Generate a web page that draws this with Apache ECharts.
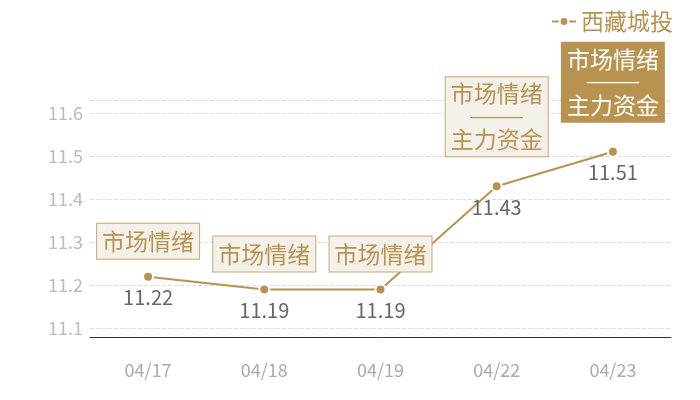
<!DOCTYPE html>
<html><head><meta charset="utf-8">
<script src="https://cdn.jsdelivr.net/npm/echarts@6/dist/echarts.min.js"></script>
<style>html,body{margin:0;padding:0;background:#fff}#c{width:700px;height:400px}</style>
</head><body><div id="c"></div>
<script>
const categories = ['04/17','04/18','04/19','04/22','04/23'];
const seriesName = '西藏城投';
const values = [11.22, 11.19, 11.19, 11.43, 11.51];
const noteTexts = ['市场情绪','市场情绪','市场情绪','市场情绪\n——\n主力资金','市场情绪\n——\n主力资金'];
const noteFilled = [false,false,false,false,true];

const gold = '#b8924f';
const font = '"Noto Sans CJK SC", "Noto Sans", sans-serif';

const markData = values.map((v,i)=>{
  const multi = noteTexts[i].indexOf('\n')>=0;
  const filled = noteFilled[i];
  const txtColor = filled ? '#fff' : gold;
  const lines = noteTexts[i].split('\n').map(s => s.indexOf('—')>=0 ? '{d|'+s+'}' : '{t|'+s+'}');
  return {
    coord:[i, v],
    label:{
      show:true,
      formatter: lines.join('\n'),
      position:'top',
      distance: multi ? 30 : 18,
      backgroundColor: filled ? gold : '#f4f0ea',
      borderColor: filled ? gold : '#c9a874',
      borderWidth: 1,
      padding:[5,5,5,5],
      align:'center',
      rich:{
        t:{color:txtColor, fontSize:23, lineHeight: multi ? 23 : 25, fontFamily:font},
        d:{color:txtColor, fontSize:26, lineHeight:23, fontFamily:'"Liberation Serif", serif'}
      }
    }
  };
});

const chart = echarts.init(document.getElementById('c'));
chart.setOption({
  animation:false,
  textStyle:{fontFamily:font},
  legend:{
    right:22, top:5,
    itemWidth:24, itemHeight:11, itemGap:8,
    textStyle:{color:gold, fontSize:23, fontFamily:font},
    data:[seriesName]
  },
  grid:{left:90, right:29, top:100, bottom:63},
  xAxis:{
    type:'category',
    data:categories,
    axisLine:{lineStyle:{color:'#333', width:1}},
    axisTick:{show:false},
    axisLabel:{color:'#aaa', fontSize:18, margin:24, fontFamily:font}
  },
  yAxis:{
    type:'value',
    min:11.08, max:11.63,
    axisLine:{show:false},
    axisTick:{show:false},
    axisLabel:{color:'#bbb', fontSize:18, margin:7, fontFamily:font,
      formatter:function(v){ const r=Math.round(v*10)/10; return Math.abs(r-v)<1e-6 ? r.toFixed(1) : ''; }},
    splitLine:{lineStyle:{color:'#dcdcdc', type:'dashed'}}
  },
  series:[{
    name:seriesName,
    type:'line',
    data:values,
    symbol:'circle',
    symbolSize:10,
    itemStyle:{color:gold, borderColor:'#fff', borderWidth:2},
    lineStyle:{color:gold, width:2},
    label:{show:true, position:'bottom', distance:5, color:'#666', fontSize:20, fontFamily:font},
    markPoint:{
      symbol:'circle', symbolSize:0,
      data:markData
    }
  }]
});
</script></body></html>
